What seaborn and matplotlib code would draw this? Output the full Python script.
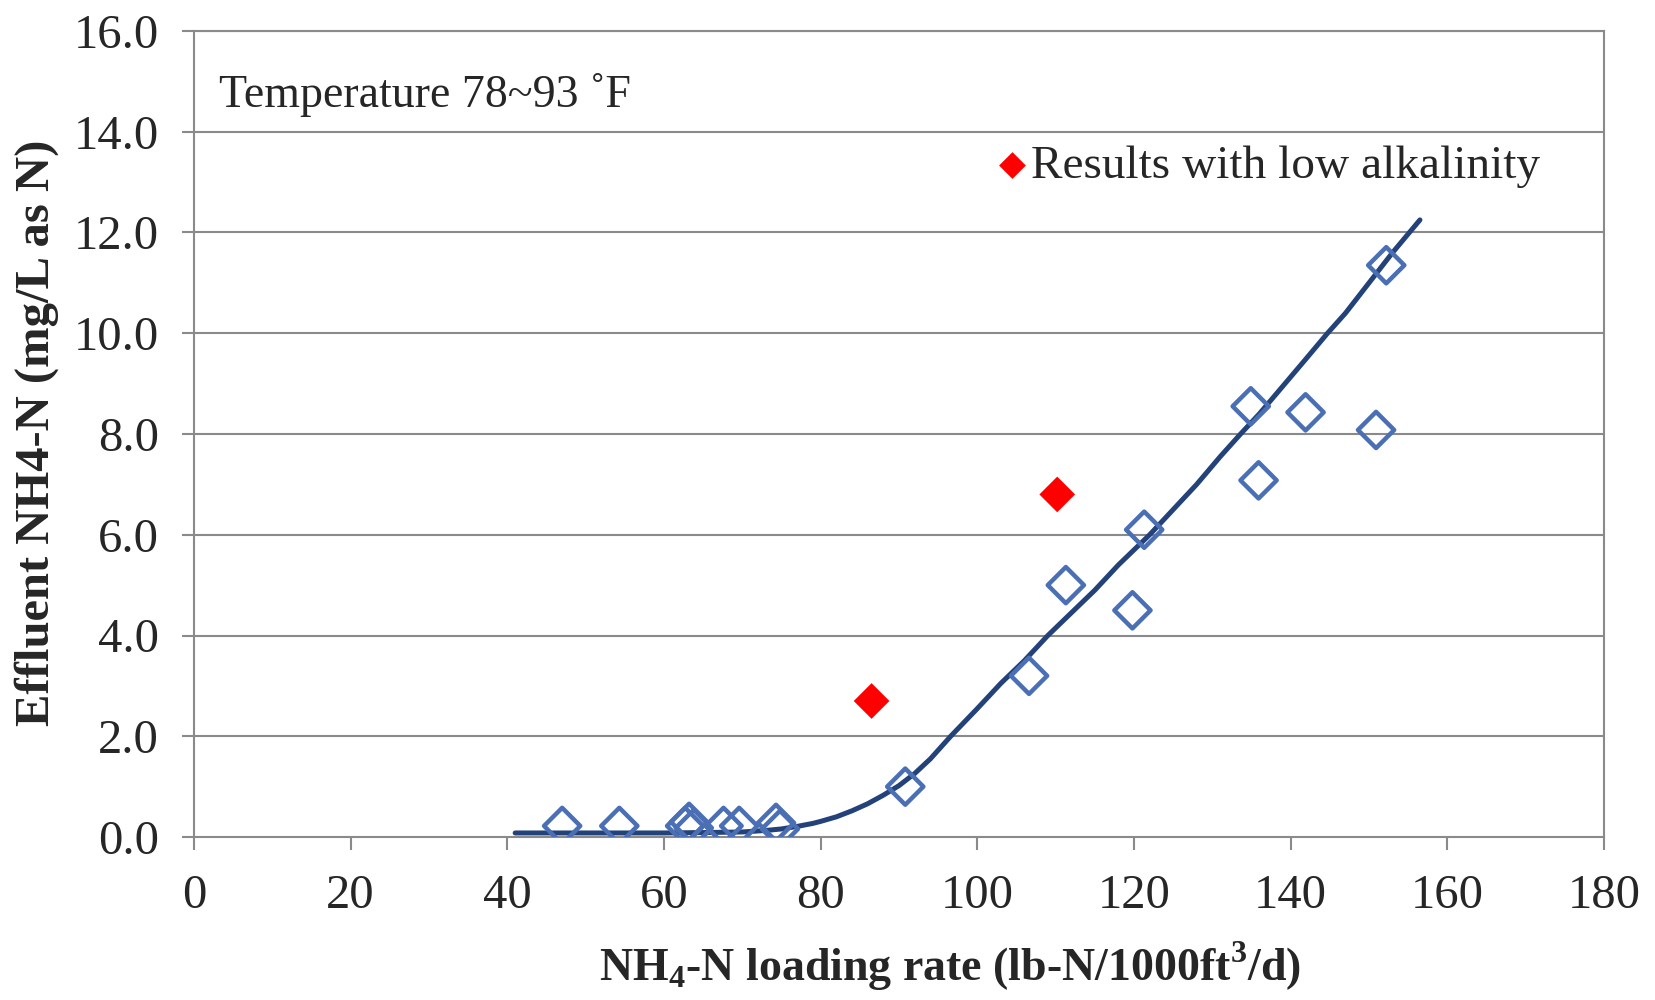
import seaborn as sns
import matplotlib.pyplot as plt
import pandas as pd

# data
blue_x = [47.0, 54.3, 62.7, 63.2, 63.8, 67.6, 69.6, 74.3, 74.8, 90.8, 106.6,
          111.3, 119.8, 121.3, 134.9, 135.9, 141.9, 150.9, 152.2]
blue_y = [0.22, 0.22, 0.22, 0.30, 0.18, 0.22, 0.22, 0.28, 0.16, 1.0, 3.2,
          5.0, 4.5, 6.1, 8.55, 7.08, 8.43, 8.08, 11.35]
red_x = [86.5, 110.2]
red_y = [2.7, 6.8]
curve_x = [41, 50, 60, 66, 70, 73, 75, 77, 79, 80, 82, 84, 86, 88, 90, 92, 94,
           96.6, 100, 103, 106, 109, 112, 115, 118, 122, 125, 128, 131, 133.6,
           136, 139, 142, 144.7, 147, 150, 153, 156.5]
curve_y = [0.08, 0.08, 0.08, 0.09, 0.10, 0.13, 0.16, 0.21, 0.27, 0.31, 0.40,
           0.52, 0.66, 0.83, 1.02, 1.26, 1.55, 2.0, 2.55, 3.05, 3.5, 4.0, 4.45,
           4.9, 5.4, 6.0, 6.5, 7.0, 7.55, 8.0, 8.4, 8.95, 9.5, 10.0, 10.4,
           11.0, 11.6, 12.25]
x_ticks = [0, 20, 40, 60, 80, 100, 120, 140, 160, 180]
y_ticks = [0, 2, 4, 6, 8, 10, 12, 14, 16]

sns.set_theme(style="white")
plt.rcParams['font.family'] = ['Liberation Serif', 'DejaVu Serif']
plt.rcParams['mathtext.fontset'] = 'custom'
plt.rcParams['mathtext.rm'] = 'Liberation Serif'
plt.rcParams['mathtext.bf'] = 'Liberation Serif:bold'

fig = plt.figure(figsize=(16.55, 10), dpi=100)
ax = fig.add_axes([0.1172, 0.163, 0.852, 0.806])

grid_c = '#8a8a8a'
for v in y_ticks[1:]:
    ax.axhline(v, color=grid_c, lw=1.5, zorder=0)

sns.lineplot(x=curve_x, y=curve_y, ax=ax, color='#23427a', lw=3.6, sort=True,
             zorder=2)
sns.scatterplot(x=blue_x, y=blue_y, ax=ax, marker='D', s=340,
                facecolor='none', edgecolor='#4a6fb5', linewidth=3.2, zorder=3)
sns.scatterplot(x=red_x, y=red_y, ax=ax, marker='D', s=330, color='#ff0000',
                edgecolor='none', zorder=4, label='Results with low alkalinity')

ax.set_xlim(0, 180)
ax.set_ylim(0, 16)
ax.set_xticks(x_ticks)
ax.set_yticks(y_ticks)
ax.set_yticklabels([f"{v:.1f}" for v in y_ticks])
for s in ax.spines.values():
    s.set_color(grid_c)
    s.set_linewidth(1.5)
ax.tick_params(axis='both', direction='out', length=9, width=1.5,
               color=grid_c, labelsize=35, left=True, bottom=True)
ax.tick_params(axis='y', pad=16)
ax.tick_params(axis='x', pad=18)

ax.set_xlabel(r"NH$_\mathbf{4}$-N loading rate (lb-N/1000ft$^\mathbf{3}$/d)",
              fontsize=33, fontweight='bold')
ax.set_ylabel("Effluent NH4-N (mg/L as N)", fontsize=35, fontweight='bold')
ax.xaxis.set_label_coords(0.536, -0.128)
ax.yaxis.set_label_coords(-0.096, 0.501)

ax.text(0.018, 0.92, "Temperature 78~93 ˚F", transform=ax.transAxes,
        fontsize=33, va='center', ha='left')

ax.legend(loc='center left', bbox_to_anchor=(0.547, 0.832), frameon=False,
          fontsize=34, handletextpad=-0.1, handlelength=1.0, borderpad=0,
          markerscale=0.75)

plt.savefig('out.png', dpi=100)
